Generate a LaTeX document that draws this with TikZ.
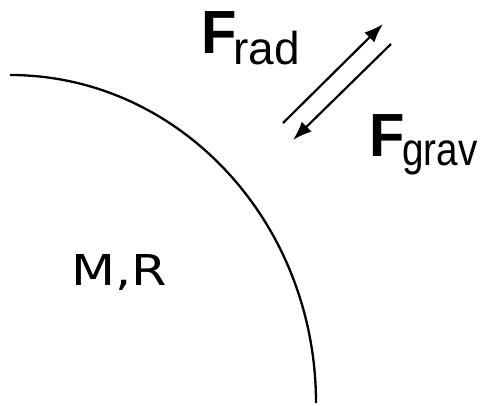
\documentclass[tikz,border=0pt]{standalone}
\usepackage{fontspec}
\setmainfont{Liberation Sans}
\newfontfamily\mrfont{DejaVu Sans}
\usetikzlibrary{arrows.meta}
\tikzset{
  force/.style={line width=2.2pt, -{Latex[length=19pt,width=14pt]}},
  lbl/.style={anchor=base west, inner sep=0pt},
}
\newcommand{\bigF}{{\fontsize{61}{61}\selectfont\bfseries F}}
\newcommand{\subtxt}[1]{\fontsize{46}{46}\selectfont #1}
\begin{document}
\begin{tikzpicture}[x=1pt,y=-1pt]
  \useasboundingbox (0,0) rectangle (487,405);
  % planet surface
  \draw[line width=2.3pt] (10,75) arc[start angle=-90, end angle=0, x radius=306, y radius=328];
  % arrows
  \coordinate (a1) at (283,123);
  \coordinate (b1) at (383,24);
  \coordinate (a2) at (391,44);
  \coordinate (b2) at (293,140);
  \draw[force] (a1) -- (b1);
  \draw[force] (a2) -- (b2);
  % labels
  \node[lbl, xscale=0.95] (frad) at (201,53) {\bigF};
  \node[lbl] (rad) at (233,64) {\subtxt{rad}};
  \node[lbl, xscale=0.95] (fgrav) at (369,156) {\bigF};
  \node[lbl, xscale=0.84] (grav) at (402,165) {\subtxt{grav}};
  \node[lbl, xscale=1.2] (mr) at (71,285) {\mrfont\fontsize{42.5}{42.5}\selectfont M,R};
\end{tikzpicture}
\end{document}
